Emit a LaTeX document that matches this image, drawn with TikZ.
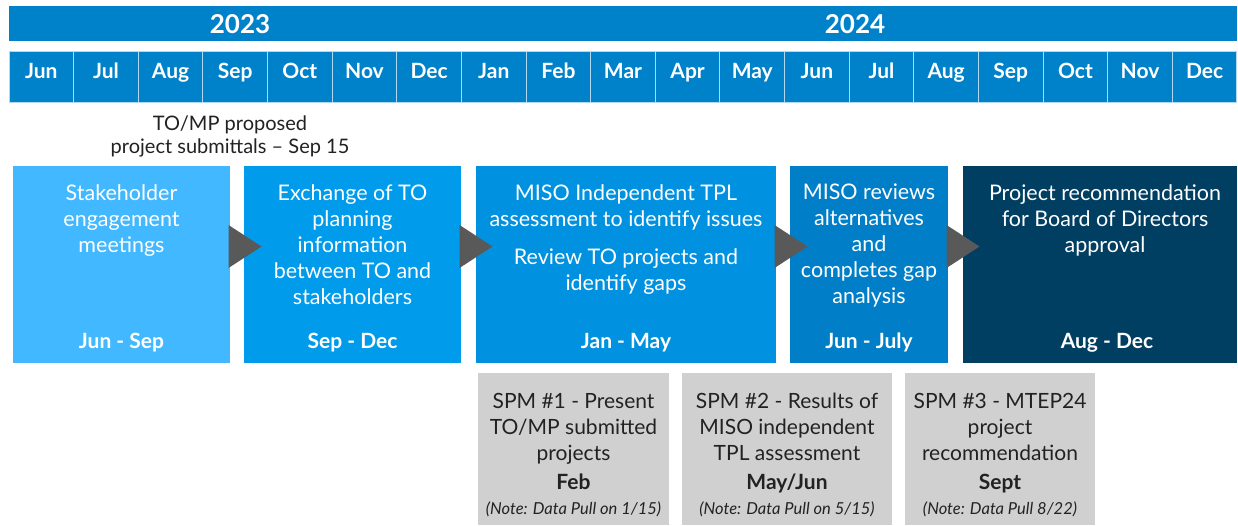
\documentclass[tikz,border=0pt]{standalone}
\usepackage{fontspec}
\setmainfont{Lato}
\usetikzlibrary{calc}
\definecolor{hdr}{RGB}{0,130,202}
\definecolor{cA}{RGB}{65,184,255}
\definecolor{cB}{RGB}{0,155,235}
\definecolor{cC}{RGB}{0,146,224}
\definecolor{cD}{RGB}{0,127,200}
\definecolor{cE}{RGB}{0,62,98}
\definecolor{arr}{RGB}{89,89,89}
\definecolor{spm}{RGB}{208,208,208}
\definecolor{ink}{RGB}{34,34,34}
\begin{document}
\begin{tikzpicture}[x=1pt,y=-1pt,
  blk/.style={anchor=north west, inner sep=0pt, outer sep=0pt},
  mon/.style={blk, fill=hdr, draw=white!70!hdr, line width=1pt, minimum width=64.63pt, minimum height=51pt},
  montext/.style={anchor=base, inner sep=0pt, text=white, font=\fontsize{21}{26}\selectfont\bfseries},
  yeartext/.style={anchor=base, inner sep=0pt, text=white, font=\fontsize{26}{30}\selectfont\bfseries},
  body/.style={anchor=north, inner sep=0pt, align=center, text=white, font=\fontsize{21.5}{26}\selectfont},
  datetext/.style={anchor=base, inner sep=0pt, text=white, font=\fontsize{21}{26}\selectfont\bfseries},
  spmbox/.style={blk, fill=spm, minimum height=152pt},
  spmtext/.style={anchor=north, inner sep=0pt, align=center, text=ink, font=\fontsize{21}{26}\selectfont},
  spmdate/.style={anchor=base, inner sep=0pt, text=ink, font=\fontsize{21}{26}\selectfont\bfseries},
  spmnote/.style={anchor=base, inner sep=0pt, text=ink, font=\fontsize{16.5}{18}\selectfont\itshape},
  chev/.style={fill=arr}
]
\useasboundingbox (0,0) rectangle (1238,525);
\fill[white] (0,0) rectangle (1238,525);

% year bar
\node[blk, fill=hdr, minimum width=1228pt, minimum height=35pt] (yr) at (9,6) {};
\node[yeartext] (y23) at (240,33) {2023};
\node[yeartext] (y24) at (855,33) {2024};

% months
\foreach \m [count=\i from 0] in {Jun,Jul,Aug,Sep,Oct,Nov,Dec,Jan,Feb,Mar,Apr,May,Jun,Jul,Aug,Sep,Oct,Nov,Dec}{
  \node[mon] (m\i) at ({9+64.63*\i},51) {};
  \node[montext] (mt\i) at ($(m\i.center)+(0,1.5)$) {\m};
}

% submittal note
\node[anchor=north, inner sep=0pt, align=center, text=ink, font=\fontsize{20}{23}\selectfont] (sub) at (230,116) {TO/MP proposed\\project submittals -- Sep 15};

% phase boxes
\node[blk, fill=cA, minimum width=217pt, minimum height=197pt] (b1) at (13,166) {};
\node[blk, fill=cB, minimum width=217pt, minimum height=197pt] (b2) at (244,166) {};
\node[blk, fill=cC, minimum width=300pt, minimum height=197pt] (b3) at (476,166) {};
\node[blk, fill=cD, minimum width=158pt, minimum height=197pt] (b4) at (790,166) {};
\node[blk, fill=cE, minimum width=274pt, minimum height=197pt] (b5) at (963,166) {};

\node[body] (t1) at (121.5,184) {Stakeholder\\engagement\\meetings};
\node[body] (t2) at (352.5,184) {Exchange of TO\\planning\\information\\between TO and\\stakeholders};
\node[body] (t3) at (626,184) {MISO Independent TPL\\assessment to identify issues\\[12pt]Review TO projects and\\identify gaps};
\node[body] (t4) at (869,184) {MISO reviews\\alternatives\\and\\completes gap\\analysis};
\node[body] (t5) at (1105,184) {Project recommendation\\for Board of Directors\\approval};

\node[datetext] (d1) at (121.5,348.5) {Jun - Sep};
\node[datetext] (d2) at (352.5,348.5) {Sep - Dec};
\node[datetext] (d3) at (626,348.5) {Jan - May};
\node[datetext] (d4) at (869,348.5) {Jun - July};
\node[datetext] (d5) at (1107,348.5) {Aug - Dec};

% chevrons
\foreach \b in {b1,b2,b3,b4}{
  \fill[chev] ($(\b.north east)+(-1.5,59)$) -- ++(33,21.5) -- ++(-33,21.5) -- cycle;
}

% SPM boxes
\node[spmbox, minimum width=191pt] (s1) at (478,373) {};
\node[spmbox, minimum width=210pt] (s2) at (682,373) {};
\node[spmbox, minimum width=190pt] (s3) at (905,373) {};

\node[spmtext] (st1) at (573.5,393) {SPM \#1 - Present\\TO/MP submitted\\projects};
\node[spmtext] (st2) at (787,393) {SPM \#2 - Results of\\MISO independent\\TPL assessment};
\node[spmtext] (st3) at (1000,393) {SPM \#3 - MTEP24\\project\\recommendation};

\node[spmdate] (sd1) at (573.5,489) {Feb};
\node[spmdate] (sd2) at (787,489) {May/Jun};
\node[spmdate] (sd3) at (1000,489) {Sept};

\node[spmnote] (sn1) at (573.5,514.5) {(Note: Data Pull on 1/15)};
\node[spmnote] (sn2) at (787,514.5) {(Note: Data Pull on 5/15)};
\node[spmnote] (sn3) at (1000,514.5) {(Note: Data Pull 8/22)};
\end{tikzpicture}
\end{document}
